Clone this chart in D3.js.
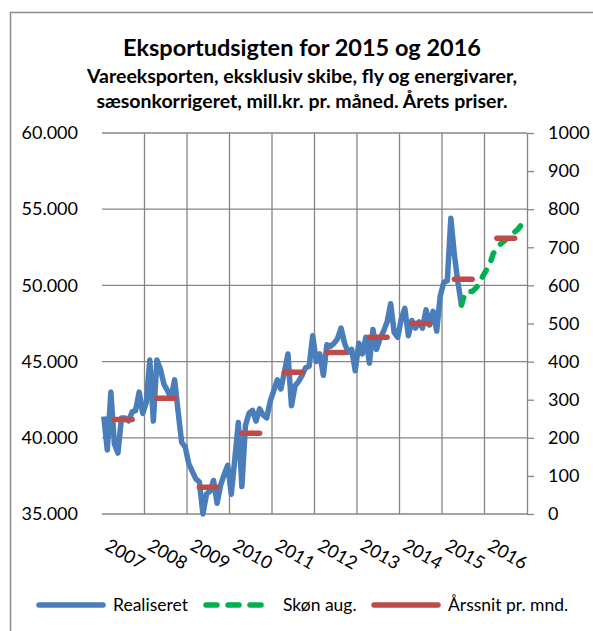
<!DOCTYPE html>
<html>
<head>
<meta charset="utf-8">
<script src="https://cdn.jsdelivr.net/npm/d3@7"></script>
<style>
  body { margin: 0; background: #fff; }
  svg { display: block; }
  text { font-family: Lato, "Open Sans", sans-serif; fill: #000; }
</style>
</head>
<body>
<div id="chart"></div>
<script>
// --- data (mill. kr. pr. måned) ---
var years = [2007, 2008, 2009, 2010, 2011, 2012, 2013, 2014, 2015, 2016];

// realiseret, jan 2007 - jun 2015
var realiseret = [
  41400, 39200, 43000, 39600, 39000, 41300, 41300, 41100, 41700, 41800, 43000, 41600,
  42300, 45100, 41100, 45100, 44500, 43500, 43100, 42600, 43800, 41700, 39700, 39400,
  38300, 37800, 37300, 37100, 35000, 36300, 36500, 37200, 35700, 36900, 37600, 38200,
  36300, 38600, 41000, 36800, 40800, 41600, 41800, 41100, 41900, 41500, 41300, 42400,
  43100, 43800, 43200, 44300, 45500, 42100, 43400, 43700, 44100, 44600, 44700, 46700,
  45000, 45500, 44100, 46100, 46000, 46200, 46500, 47200, 46200, 45600, 45800, 44400,
  46200, 45500, 46600, 44900, 47100, 45800, 46500, 47000, 47600, 48800, 46900, 46600,
  47800, 48500, 46700, 47700, 47200, 47600, 47200, 48400, 47400, 48300, 47000, 49300,
  50200, 50300, 54400, 52000, 50200, 48700
];

// skøn aug., jun 2015 - dec 2016
var skoenStart = 101;
var skoen = [
  48700, 49500, 49600, 49600, 49800, 50100, 50600,
  51000, 51400, 52100, 52400, 52700, 52900, 53100, 53300, 53500, 53700, 54000, 54400
];

// årssnit pr. mnd.
var aarssnit = [41200, 42600, 36750, 40300, 44300, 45600, 46600, 47500, 50400, 53100];

var leftTicks = [35000, 40000, 45000, 50000, 55000, 60000];
var rightTicks = [0, 100, 200, 300, 400, 500, 600, 700, 800, 900, 1000];

var titleText = 'Eksportudsigten for 2015 og 2016';
var subtitleLines = [
  'Vareeksporten, eksklusiv skibe, fly og energivarer,',
  'sæsonkorrigeret, mill.kr. pr. måned. Årets priser.'
];
var legendLabels = ['Realiseret', 'Skøn aug.', 'Årssnit pr. mnd.'];

// --- chart ---
var W = 593, H = 631;
var blue = '#4a7ebb', green = '#00b050', red = '#be4b48', grid = '#868686';

var svg = d3.select('#chart').append('svg')
    .attr('width', W)
    .attr('height', H);

// outer chart frame (runs off the picture on the right and bottom)
svg.append('rect')
    .attr('x', 10.5).attr('y', 12.5)
    .attr('width', 640).attr('height', 660)
    .attr('fill', 'none')
    .attr('stroke', '#8c8c8c')
    .attr('stroke-width', 1.5);

var x = d3.scaleLinear().domain([0, 120]).range([102, 527]),
    y = d3.scaleLinear().domain([35000, 60000]).range([514, 133]),
    y2 = d3.scaleLinear().domain([0, 1000]).range([514, 133]);

var dk = d3.formatLocale({ decimal: ',', thousands: '.', grouping: [3], currency: ['', ' kr'] });
var fmt = dk.format(',d');

// titles
svg.append('text')
    .attr('x', 302).attr('y', 56)
    .attr('text-anchor', 'middle')
    .style('font-size', '23.5px')
    .style('font-weight', 'bold')
    .text(titleText);

svg.selectAll('.subtitle')
    .data(subtitleLines)
    .enter().append('text')
    .attr('class', 'subtitle')
    .attr('x', 302)
    .attr('y', function(d, i){ return 83 + i * 25; })
    .attr('text-anchor', 'middle')
    .style('font-size', '19.5px')
    .style('font-weight', 'bold')
    .text(function(d){ return d; });

// gridlines
svg.append('g')
    .selectAll('line')
    .data(leftTicks)
    .enter().append('line')
    .attr('x1', x(0)).attr('x2', x(120))
    .attr('y1', function(d){ return y(d); })
    .attr('y2', function(d){ return y(d); })
    .attr('stroke', grid)
    .attr('stroke-width', 1.3);

svg.append('g')
    .selectAll('line')
    .data(years.slice(1))
    .enter().append('line')
    .attr('x1', function(d, i){ return x((i + 1) * 12); })
    .attr('x2', function(d, i){ return x((i + 1) * 12); })
    .attr('y1', y(60000)).attr('y2', y(35000))
    .attr('stroke', grid)
    .attr('stroke-width', 1.3);

// left axis (labels only)
var gLeft = svg.append('g')
    .attr('transform', 'translate(' + x(0) + ',0)')
    .call(d3.axisLeft(y).tickValues(leftTicks).tickSize(0).tickPadding(24).tickFormat(fmt));
gLeft.select('.domain').remove();
gLeft.selectAll('text').style('font-size', '18px').style('font-family', 'Lato, sans-serif');

// right axis
var gRight = svg.append('g')
    .attr('transform', 'translate(' + x(120) + ',0)')
    .call(d3.axisRight(y2).tickValues(rightTicks).tickSize(7).tickSizeOuter(0).tickPadding(14)
        .tickFormat(d3.format('d')));
gRight.select('.domain').attr('stroke', grid).attr('stroke-width', 1.3);
gRight.selectAll('.tick line').attr('stroke', grid).attr('stroke-width', 1.3);
gRight.selectAll('text').style('font-size', '18px').style('font-family', 'Lato, sans-serif');

// year labels, rotated
svg.append('g')
    .selectAll('text')
    .data(years)
    .enter().append('text')
    .attr('transform', function(d, i){
        return 'translate(' + (x(i * 12 + 6) + 2) + ',554) rotate(30)';
    })
    .attr('text-anchor', 'middle')
    .attr('dy', '0.35em')
    .style('font-size', '18px')
    .text(function(d){ return d; });

// series
var line = d3.line()
    .x(function(d){ return x(d.i + 0.5); })
    .y(function(d){ return y(d.v); });

svg.append('path')
    .datum(realiseret.map(function(v, i){ return { i: i, v: v }; }))
    .attr('d', line)
    .attr('fill', 'none')
    .attr('stroke', blue)
    .attr('stroke-width', 5.5)
    .attr('stroke-linejoin', 'round');

svg.append('path')
    .datum(skoen.map(function(v, i){ return { i: skoenStart + i, v: v }; }))
    .attr('d', line)
    .attr('fill', 'none')
    .attr('stroke', green)
    .attr('stroke-width', 5.5)
    .attr('stroke-linecap', 'round')
    .attr('stroke-dasharray', '8,11');

svg.append('g')
    .selectAll('path')
    .data(aarssnit)
    .enter().append('path')
    .attr('d', function(v, k){
        return line(d3.range(3, 9).map(function(m){ return { i: k * 12 + m, v: v }; }));
    })
    .attr('fill', 'none')
    .attr('stroke', red)
    .attr('stroke-width', 5.5)
    .attr('stroke-linecap', 'round');

// legend
var legendX = [39, 206, 374],
    legendStyles = [
        { color: blue, dash: null },
        { color: green, dash: '11,11' },
        { color: red, dash: null }
    ];
var lg = svg.append('g').attr('transform', 'translate(0,605)');
legendLabels.forEach(function(label, i){
    lg.append('line')
        .attr('x1', legendX[i]).attr('x2', legendX[i] + 64)
        .attr('y1', 0).attr('y2', 0)
        .attr('stroke', legendStyles[i].color)
        .attr('stroke-width', 5.5)
        .attr('stroke-linecap', 'round')
        .attr('stroke-dasharray', legendStyles[i].dash);
    lg.append('text')
        .attr('x', legendX[i] + (i === 1 ? 77 : 74))
        .attr('y', 0)
        .attr('dy', '0.35em')
        .style('font-size', '17.5px')
        .text(label);
});
</script>
</body>
</html>
